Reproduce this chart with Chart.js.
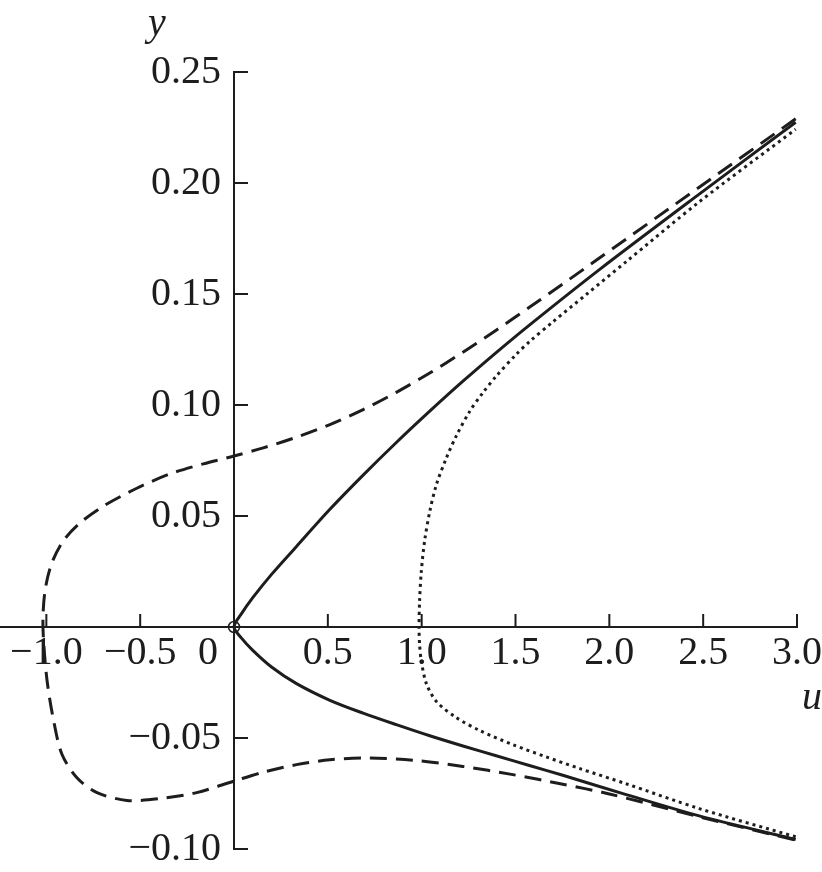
<!DOCTYPE html>
<html>
<head>
<meta charset="utf-8">
<script src="https://cdn.jsdelivr.net/npm/chart.js@4.4.1/dist/chart.umd.min.js"></script>
<style>
  body { margin: 0; background: #fff; }
  canvas { display: block; }
</style>
</head>
<body>
<canvas id="chart" width="822" height="872"></canvas>
<script>
// Tick values and their labels
const uTicks = [-1.0, -0.5, 0, 0.5, 1.0, 1.5, 2.0, 2.5, 3.0];
const uTickLabels = ['−1.0', '−0.5', '0', '0.5', '1.0', '1.5', '2.0', '2.5', '3.0'];
const yTicks = [0.25, 0.20, 0.15, 0.10, 0.05, 0, -0.05, -0.10];
const yTickLabels = ['0.25', '0.20', '0.15', '0.10', '0.05', '', '−0.05', '−0.10'];

// Solid curve: lower end -> origin -> upper end
const solidU = [2.993, 2.479, 2.09, 1.752, 1.574, 1.397, 1.22, 1.043, 0.865, 0.688, 0.511, 0.333, 0.2, 0.1, 0.04, 0,
  0.04, 0.1, 0.2, 0.333, 0.511, 0.688, 0.865, 1.043, 1.22, 1.397, 1.574, 1.947, 2.479, 2.993];
const solidY = [-0.0957, -0.0851, -0.0755, -0.0668, -0.0624, -0.058, -0.0536, -0.049, -0.044, -0.0388, -0.033, -0.0255, -0.018, -0.0105, -0.005, 0,
  0.006, 0.0132, 0.0237, 0.0363, 0.053, 0.0684, 0.0831, 0.0972, 0.1107, 0.1236, 0.136, 0.161, 0.195, 0.2274];

// Dotted curve: lower end -> turning point near u = 1 -> upper end
const dottedU = [2.993, 2.479, 2.089, 1.84, 1.663, 1.486, 1.309, 1.184, 1.078, 1.025, 0.998, 0.989, 0.986,
  0.989, 0.998, 1.016, 1.043, 1.078, 1.131, 1.184, 1.255, 1.326, 1.397, 1.504, 1.574, 1.70, 1.88, 2.089, 2.479, 2.993];
const dottedY = [-0.0945, -0.0818, -0.0706, -0.0637, -0.0585, -0.053, -0.0466, -0.0408, -0.0335, -0.0255, -0.0153, -0.008, 0,
  0.012, 0.025, 0.039, 0.052, 0.064, 0.076, 0.086, 0.097, 0.1055, 0.113, 0.1228, 0.1285, 0.1375, 0.15, 0.1645, 0.1915, 0.2242];

// Dashed curve: upper end -> loop round u = -1 -> lower end
const dashedU = [2.993, 2.479, 1.947, 1.75, 1.574, 1.397, 1.22, 1.043, 0.865, 0.688, 0.511, 0.333, 0.156, 0, -0.163, -0.34,
  -0.518, -0.695, -0.819, -0.908, -0.97, -1.005, -1.018, -1.015, -0.996, -0.961, -0.917, -0.837, -0.73, -0.571, -0.394,
  -0.199, 0, 0.156, 0.333, 0.511, 0.72, 0.954, 1.22, 1.486, 1.752, 2.0, 2.479, 2.993];
const dashedY = [0.2289, 0.1981, 0.1662, 0.1544, 0.144, 0.1337, 0.1238, 0.1144, 0.1057, 0.0979, 0.0912, 0.0855, 0.0807, 0.077, 0.0735, 0.069,
  0.0625, 0.0545, 0.047, 0.039, 0.029, 0.0175, 0.005, -0.006, -0.0243, -0.0423, -0.0573, -0.0679, -0.0746, -0.0781, -0.0773,
  -0.0746, -0.0694, -0.0654, -0.062, -0.0598, -0.059, -0.06, -0.0628, -0.0665, -0.0708, -0.0752, -0.0855, -0.096];

const ink = '#1e1c1d';
const serif = '"Liberation Serif", "Times New Roman", serif';

function toPoints(us, ys) {
  return us.map((u, i) => ({ x: u, y: ys[i] }));
}

function curve(us, ys, dash) {
  return {
    data: toPoints(us, ys),
    showLine: true,
    borderColor: ink,
    borderWidth: 3,
    borderDash: dash,
    pointRadius: 0,
    tension: 0.3,
    fill: false,
  };
}

// Inward tick marks, the y labels, the shifted "0" and the axis names
const axisExtras = {
  id: 'axisExtras',
  afterDraw(chart) {
    const { ctx, scales: { x, y } } = chart;
    const x0 = x.getPixelForValue(0);
    const y0 = y.getPixelForValue(0);
    ctx.save();
    ctx.strokeStyle = ink;
    ctx.lineWidth = 2;
    ctx.beginPath();
    uTicks.forEach((v) => {
      if (v === 0) return;
      const px = x.getPixelForValue(v);
      ctx.moveTo(px, y0);
      ctx.lineTo(px, y0 - 13);
    });
    yTicks.forEach((v) => {
      if (v === 0) return;
      const py = y.getPixelForValue(v);
      ctx.moveTo(x0, py);
      ctx.lineTo(x0 + 14, py);
    });
    ctx.stroke();

    ctx.fillStyle = ink;
    ctx.font = '40px ' + serif;
    ctx.textAlign = 'right';
    ctx.textBaseline = 'middle';
    yTicks.forEach((v, i) => {
      ctx.fillText(yTickLabels[i], x0 - 13, y.getPixelForValue(v));
    });

    ctx.textAlign = 'center';
    ctx.fillText(uTickLabels[uTicks.indexOf(0)], x0 - 26, y0 + 2 + 24);

    ctx.font = 'italic 40px ' + serif;
    ctx.textAlign = 'left';
    ctx.textBaseline = 'alphabetic';
    ctx.fillText('y', x0 - 86, 35);
    ctx.fillText('u', x.right + 5, y0 + 82);
    ctx.restore();
  },
};

function noSpace(scale) {
  if (scale.isHorizontal()) scale.height = 0;
  else scale.width = 0;
  scale.paddingLeft = scale.paddingRight = scale.paddingTop = scale.paddingBottom = 0;
}

document.addEventListener('DOMContentLoaded', () => {
  const ctx = document.getElementById('chart').getContext('2d');
  new Chart(ctx, {
    type: 'scatter',
    data: {
      datasets: [
        curve(dashedU, dashedY, [17, 9]),
        curve(dottedU, dottedY, [3, 4]),
        curve(solidU, solidY, []),
        {
          data: [{ x: 0, y: 0 }],
          showLine: false,
          pointRadius: 5.5,
          pointBorderWidth: 1.5,
          pointBorderColor: ink,
          pointBackgroundColor: 'rgba(0,0,0,0)',
        },
      ],
    },
    options: {
      responsive: false,
      animation: false,
      layout: { autoPadding: false, padding: { left: 0, right: 25, top: 72, bottom: 23 } },
      plugins: { legend: { display: false }, tooltip: { enabled: false } },
      scales: {
        x: {
          type: 'linear',
          position: { y: 0 },
          min: -1.247,
          max: 3.0,
          afterBuildTicks: (s) => { s.ticks = uTicks.map((v) => ({ value: v })); },
          afterFit: noSpace,
          border: { display: true, color: ink, width: 2 },
          grid: { drawOnChartArea: false, drawTicks: false },
          ticks: {
            autoSkip: false,
            maxRotation: 0,
            minRotation: 0,
            padding: 2,
            color: ink,
            font: { family: serif, size: 40 },
            callback: (v, i) => (v === 0 ? '' : uTickLabels[i]),
          },
        },
        y: {
          type: 'linear',
          position: { x: 0 },
          min: -0.10,
          max: 0.25,
          afterBuildTicks: (s) => { s.ticks = yTicks.map((v) => ({ value: v })); },
          afterFit: noSpace,
          border: { display: true, color: ink, width: 2 },
          grid: { drawOnChartArea: false, drawTicks: false },
          ticks: { display: false },
        },
      },
    },
    plugins: [axisExtras],
  });
});
</script>
</body>
</html>
